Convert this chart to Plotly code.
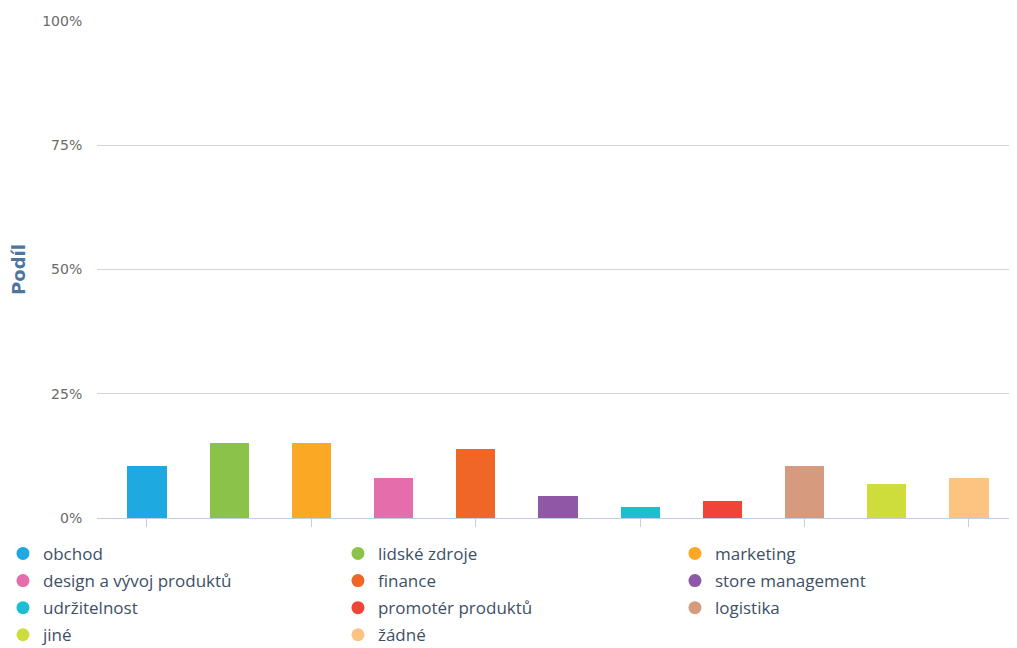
import plotly.graph_objects as go

categories = ["obchod", "lidské zdroje", "marketing", "design a vývoj produktů", "finance",
              "store management", "udržitelnost", "promotér produktů", "logistika", "jiné", "žádné"]
values = [10.5, 15.0, 15.0, 8.0, 13.9, 4.4, 2.3, 3.4, 10.5, 6.8, 8.0]
colors = ["#1ea9e1", "#8bc34a", "#fba924", "#e66dab", "#f06626",
          "#8f57a6", "#1bbfd1", "#f04438", "#d69a7e", "#cfdd3c", "#fcc480"]
y_ticks = [0, 25, 50, 75, 100]
y_labels = ["0%", "25%", "50%", "75%", "100%"]

fig = go.Figure()

# bars (one per category), legend shown through circle markers
for i, (cat, val, col) in enumerate(zip(categories, values, colors)):
    fig.add_trace(go.Bar(x=[i], y=[val], name=cat, marker=dict(color=col, line=dict(width=0)),
                         width=0.475, showlegend=False))

# legend in three columns, filled row by row like the original
legend_ids = ["legend", "legend2", "legend3"]
for i, (cat, col) in enumerate(zip(categories, colors)):
    fig.add_trace(go.Scatter(x=[None], y=[None], mode="markers", name=cat,
                             legend=legend_ids[i % 3], legendgroup=cat,
                             marker=dict(symbol="circle", size=13, color=col)))

leg_style = dict(orientation="v", y=-0.036, yanchor="top", xanchor="left",
                 tracegroupgap=2, traceorder="grouped", itemclick=False,
                 bgcolor="rgba(0,0,0,0)",
                 font=dict(size=17, color="#3d5066", family="Open Sans"))

# page body has an 8px margin, so the figure is a bit smaller and shifted
fig.update_layout(
    width=1009, height=640,
    margin=dict(l=89, r=0, t=13, b=130, autoexpand=False),
    plot_bgcolor="white", paper_bgcolor="white",
    font=dict(family="Open Sans", color="#666666"),
    bargap=0,
    legend=dict(x=-0.1022, **leg_style),
    legend2=dict(x=0.2619, **leg_style),
    legend3=dict(x=0.6282, **leg_style),
    xaxis=dict(range=[-0.608, 10.584], tickvals=[0, 2, 4, 6, 8, 10], showticklabels=False,
               ticks="outside", ticklen=8, tickcolor="#c0d0e0", showgrid=False,
               showline=True, linecolor="#c0d0e0", linewidth=1, zeroline=False),
    yaxis=dict(range=[0, 100], tickvals=y_ticks, ticktext=y_labels,
               tickfont=dict(size=14, color="#6a6a6a", family="DejaVu Sans"),
               ticks="outside", ticklen=11, tickcolor="rgba(0,0,0,0)",
               showgrid=True, gridcolor="#d3d3d3", gridwidth=1, zeroline=False,
               title=dict(text="<b>Podíl</b>", standoff=18,
                          font=dict(size=18, color="#4d759e", family="DejaVu Sans"))),
)

fig.write_html("out.html")
